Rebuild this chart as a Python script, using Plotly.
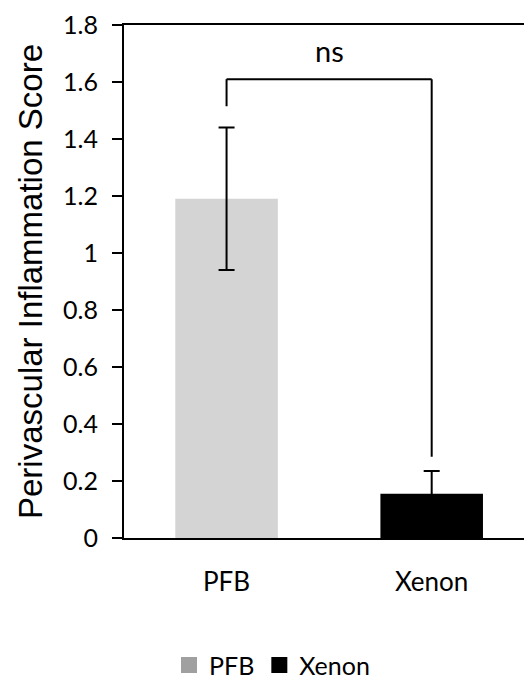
import plotly.graph_objects as go

categories = ["PFB", "Xenon"]
values = [1.19, 0.155]
errors = [0.25, 0.08]
bar_colors = ["#D4D4D4", "#000000"]
legend_colors = ["#A0A0A0", "#000000"]
y_ticks = [0, 0.2, 0.4, 0.6, 0.8, 1, 1.2, 1.4, 1.6, 1.8]
y_tick_labels = ["0", "0.2", "0.4", "0.6", "0.8", "1", "1.2", "1.4", "1.6", "1.8"]
sig_label = "ns"
bracket_top = 1.61
bracket_left_end = 1.515
bracket_right_end = 0.285
sig_label_y = 1.71

fig = go.Figure()
for cat, val, err, col in zip(categories, values, errors, bar_colors):
    fig.add_trace(go.Bar(
        x=[cat], y=[val], width=0.5, marker=dict(color=col, line=dict(width=0)),
        error_y=dict(type="data", array=[err], color="black", thickness=2, width=8),
        showlegend=False, hoverinfo="skip",
    ))
for cat, col in zip(categories, legend_colors):
    fig.add_trace(go.Scatter(x=[None], y=[None], name=cat, mode="markers",
                             marker=dict(color=col, symbol="square", size=16),
                             showlegend=True))

# significance bracket
fig.add_shape(type="line", xref="x", yref="y", x0=categories[0], x1=categories[0],
              y0=bracket_left_end, y1=bracket_top, line=dict(color="black", width=2))
fig.add_shape(type="line", xref="x", yref="y", x0=categories[0], x1=categories[1],
              y0=bracket_top, y1=bracket_top, line=dict(color="black", width=2))
fig.add_shape(type="line", xref="x", yref="y", x0=categories[1], x1=categories[1],
              y0=bracket_top, y1=bracket_right_end, line=dict(color="black", width=2))
fig.add_annotation(x=0.5, y=sig_label_y, xref="x", yref="y", text=sig_label, showarrow=False,
                   font=dict(family="Lato", size=29, color="black"))

fig.update_layout(
    width=516, height=672,
    margin=dict(l=116, r=0, t=17, b=142, autoexpand=False),
    paper_bgcolor="white", plot_bgcolor="white",
    barmode="overlay",
    font=dict(family="Lato", size=26, color="black"),
    legend=dict(orientation="h", x=0.37, xanchor="center", y=-0.248, yanchor="middle",
                font=dict(family="Lato", size=25, color="black"), itemsizing="trace",
                itemwidth=30, traceorder="normal"),
    xaxis=dict(range=[-0.5, 1.45], showline=True, linecolor="black", linewidth=2, mirror=True,
               ticks="", showgrid=False, zeroline=False, ticklabelstandoff=20, automargin=False,
               tickfont=dict(family="Lato", size=26)),
    yaxis=dict(range=[0, 1.8], tickvals=y_ticks, ticktext=y_tick_labels, showline=True,
               linecolor="black", linewidth=2, ticks="outside", ticklen=10, tickwidth=2,
               tickcolor="black", showgrid=False, zeroline=False, automargin=False,
               ticklabelstandoff=9, ticklabeloverflow="allow",
               tickfont=dict(family="Lato", size=25),
               title=dict(text="Perivascular Inflammation Score",
                          font=dict(family="Liberation Sans", size=33), standoff=11)),
)
fig.write_html("out.html")
